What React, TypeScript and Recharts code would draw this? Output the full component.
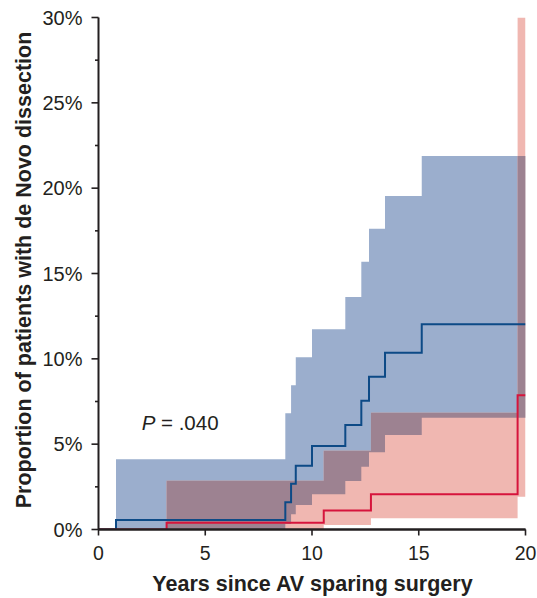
import { ComposedChart, Area, Line, XAxis, YAxis, ReferenceDot, ReferenceLine } from "recharts";

const FONT = '"Liberation Sans", Arial, Helvetica, sans-serif';
const INK = "#231f20";

// blue group: cumulative incidence with 95% CI (step times in years, values in %)
const blueTimes = [0, 0.82, 8.75, 9.02, 9.24, 10.0, 11.56, 12.31, 12.67, 13.42, 15.14, 20];
const blueEst = [0, 0.56, 1.59, 2.68, 3.74, 4.89, 6.12, 7.55, 8.95, 10.36, 12.02, 12.02];
const blueLower = [null, 0, 0.32, 0.89, 1.44, 2.06, 2.84, 3.68, 4.52, 5.54, 6.55, 6.55];
const blueUpper = [null, 4.11, 6.81, 8.45, 10.09, 11.73, 13.62, 15.69, 17.62, 19.54, 21.88, 21.88];

// red group
const redTimes = [0, 3.19, 10.55, 12.76, 19.63, 20];
const redEst = [0, 0.4, 1.12, 2.06, 7.86, 7.86];
const redLower = [null, 0, 0.26, 0.66, 1.92, 1.92];
const redUpper = [null, 2.86, 4.62, 6.84, 30, 30];

const xTicks = [0, 5, 10, 15, 20];
const yTicks = [0, 2.5, 5, 7.5, 10, 12.5, 15, 17.5, 20, 22.5, 25, 27.5, 30];

const stepAt = (times: number[], vals: (number | null)[], t: number) => {
  let v: number | null = null;
  times.forEach((tt, i) => {
    if (tt <= t) v = vals[i];
  });
  return v;
};

const allTimes = Array.from(new Set([...blueTimes, ...redTimes])).sort((a, b) => a - b);

const rows = allTimes.map((t) => {
  const bl = stepAt(blueTimes, blueLower, t);
  const bu = stepAt(blueTimes, blueUpper, t);
  const rl = stepAt(redTimes, redLower, t);
  const ru = stepAt(redTimes, redUpper, t);
  let overlap: number[] | null = null;
  if (bl != null && bu != null && rl != null && ru != null) {
    const lo = Math.max(bl, rl);
    const hi = Math.min(bu, ru);
    overlap = hi > lo ? [lo, hi] : [lo, lo];
  }
  return {
    t,
    blueEst: stepAt(blueTimes, blueEst, t),
    redEst: stepAt(redTimes, redEst, t),
    blueBand: bl == null ? null : [bl, bu],
    redBand: rl == null ? null : [rl, ru],
    overlap,
  };
});

function YTick(props: any) {
  const { x, y, payload } = props;
  const v = payload.value;
  const major = v % 5 === 0;
  const ax = x + 16;
  return (
    <g>
      <line x1={ax - (major ? 7 : 3.5)} x2={ax} y1={y} y2={y} stroke={INK} strokeWidth={1.6} />
      {major && (
        <text x={x} y={y} dy="0.35em" textAnchor="end" fill={INK} fontSize={20} fontFamily={FONT}>
          {v}%
        </text>
      )}
    </g>
  );
}

export default function App() {
  return (
    <div style={{ position: "absolute", left: 0, top: 0, background: "#fff" }}>
      <ComposedChart
        width={537}
        height={598}
        data={rows}
        margin={{ top: 17.5, right: 11.5, bottom: 8.5, left: 0 }}
      >
        <Area
          dataKey="blueBand"
          type="stepAfter"
          fill="#9baecd"
          fillOpacity={1}
          stroke="none"
          isAnimationActive={false}
        />
        <Area
          dataKey="redBand"
          type="stepAfter"
          fill="#f0b7b1"
          fillOpacity={1}
          stroke="none"
          isAnimationActive={false}
        />
        <Area
          dataKey="overlap"
          type="stepAfter"
          fill="#9d8291"
          fillOpacity={1}
          stroke="none"
          isAnimationActive={false}
        />
        <Line
          dataKey="blueEst"
          type="stepAfter"
          stroke="#0d4a86"
          strokeWidth={2}
          dot={false}
          isAnimationActive={false}
        />
        <Line
          dataKey="redEst"
          type="stepAfter"
          stroke="#d6143c"
          strokeWidth={2}
          dot={false}
          isAnimationActive={false}
        />
        <ReferenceLine y={0} stroke={INK} strokeWidth={2} zIndex={2000} />
        <ReferenceDot
          x={2.02}
          y={5.83}
          r={0}
          fill="none"
          stroke="none"
          label={{
            content: (p: any) => (
              <text x={p.viewBox.x} y={p.viewBox.y} fill={INK} fontSize={20.5} fontFamily={FONT}>
                <tspan fontStyle="italic">P</tspan>
                <tspan> = .040</tspan>
              </text>
            ),
          }}
        />
        <XAxis
          dataKey="t"
          type="number"
          domain={[0, 20]}
          ticks={xTicks}
          allowDataOverflow
          height={60}
          tickSize={6}
          tickMargin={11}
          axisLine={{ stroke: INK, strokeWidth: 2 }}
          tickLine={{ stroke: INK, strokeWidth: 1.6 }}
          tick={{ fill: INK, fontSize: 19.5, fontFamily: FONT }}
          label={{
            content: () => (
              <text x={312.5} y={591} textAnchor="middle" fill={INK} fontSize={21.5} fontWeight="bold" fontFamily={FONT}>
                Years since AV sparing surgery
              </text>
            ),
          }}
        />
        <YAxis
          type="number"
          domain={[0, 30]}
          ticks={yTicks}
          interval={0}
          allowDataOverflow
          width={98.5}
          tickSize={7}
          tickMargin={9}
          tickLine={false}
          axisLine={{ stroke: INK, strokeWidth: 2 }}
          tick={YTick}
          label={{
            content: () => (
              <text
                x={30.5}
                y={270}
                transform="rotate(-90, 30.5, 270)"
                textAnchor="middle"
                fill={INK}
                fontSize={21.5}
                fontWeight="bold"
                fontFamily={FONT}
              >
                Proportion of patients with de Novo dissection
              </text>
            ),
          }}
        />
      </ComposedChart>
    </div>
  );
}
